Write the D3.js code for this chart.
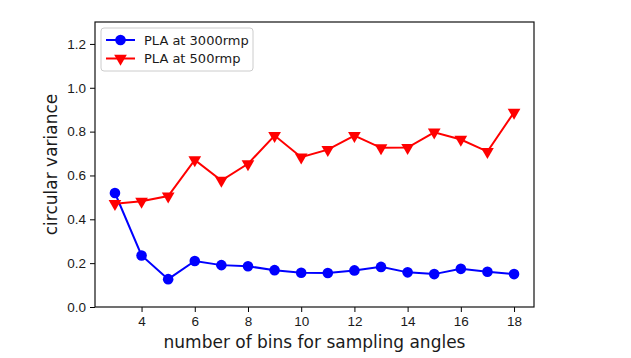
<!DOCTYPE html>
<html>
<head>
<meta charset="utf-8">
<script src="https://cdn.jsdelivr.net/npm/d3@7"></script>
<style>
  body { margin: 0; background: #fff; }
  svg { font-family: "DejaVu Sans", sans-serif; }
</style>
</head>
<body>
<div id="chart-area"></div>
<script>
let bins = [3, 4, 5, 6, 7, 8, 9, 10, 11, 12, 13, 14, 15, 16, 17, 18];
let pla3000 = [0.52, 0.235, 0.127, 0.21, 0.191, 0.186, 0.168, 0.156, 0.155, 0.167, 0.183, 0.158, 0.15, 0.174, 0.161, 0.15];
let pla500 = [0.471, 0.482, 0.506, 0.671, 0.577, 0.653, 0.782, 0.683, 0.718, 0.782, 0.726, 0.727, 0.797, 0.764, 0.709, 0.888];
let xTicks = [4, 6, 8, 10, 12, 14, 16, 18];
let yTicks = [0.0, 0.2, 0.4, 0.6, 0.8, 1.0, 1.2];
let seriesNames = ['PLA at 3000rmp', 'PLA at 500rmp'];

let margin = { left: 95, right: 97, top: 22, bottom: 51 };
let width = 631 - margin.left - margin.right;
let height = 358 - margin.top - margin.bottom;

let svg = d3.select('#chart-area').append('svg')
  .attr('width', 631)
  .attr('height', 358);

let g = svg.append('g')
  .attr('transform', `translate(${margin.left}, ${margin.top})`);

let x = d3.scaleLinear()
  .domain([2.25, 18.75])
  .range([0, width]);

let y = d3.scaleLinear()
  .domain([0, 1.3])
  .range([height, 0]);

// axes
let bottomAxis = d3.axisBottom(x)
  .tickValues(xTicks)
  .tickFormat(d3.format('d'))
  .tickSizeInner(5)
  .tickSizeOuter(0)
  .tickPadding(4);
let xg = g.append('g')
  .attr('transform', `translate(0, ${height})`)
  .call(bottomAxis);

let leftAxis = d3.axisLeft(y)
  .tickValues(yTicks)
  .tickFormat(d3.format('.1f'))
  .tickSizeInner(5)
  .tickSizeOuter(0)
  .tickPadding(4);
let yg = g.append('g')
  .call(leftAxis);

[xg, yg].forEach(a => {
  a.select('.domain').remove();
  a.selectAll('.tick line').attr('stroke', '#000').attr('stroke-width', 1);
  a.selectAll('.tick text').attr('fill', '#1a1a1a').style('font-size', '13.5px');
});

// frame
g.append('rect')
  .attr('x', 0)
  .attr('y', 0)
  .attr('width', width)
  .attr('height', height)
  .attr('fill', 'none')
  .attr('stroke', '#111')
  .attr('stroke-width', 1.2);

// lines
let line = d3.line()
  .x((d, i) => x(bins[i]))
  .y(d => y(d));

g.append('path')
  .datum(pla3000)
  .attr('d', line)
  .attr('fill', 'none')
  .attr('stroke', 'blue')
  .attr('stroke-width', 2);

g.append('path')
  .datum(pla500)
  .attr('d', line)
  .attr('fill', 'none')
  .attr('stroke', 'red')
  .attr('stroke-width', 2);

let tri = d3.symbol().type(d3.symbolTriangle).size(70);

g.selectAll('.m3000')
  .data(pla3000)
  .enter()
  .append('circle')
  .attr('cx', (d, i) => x(bins[i]))
  .attr('cy', d => y(d))
  .attr('r', 5.3)
  .attr('fill', 'blue');

g.selectAll('.m500')
  .data(pla500)
  .enter()
  .append('path')
  .attr('d', tri)
  .attr('transform', (d, i) => `translate(${x(bins[i])}, ${y(d)}) rotate(180)`)
  .attr('fill', 'red');

// axis labels
svg.append('text')
  .attr('x', margin.left + width / 2)
  .attr('y', 348)
  .attr('text-anchor', 'middle')
  .attr('fill', '#1a1a1a')
  .style('font-size', '17px')
  .text('number of bins for sampling angles');

svg.append('text')
  .attr('transform', `translate(57, ${margin.top + height / 2}) rotate(-90)`)
  .attr('text-anchor', 'middle')
  .attr('fill', '#1a1a1a')
  .style('font-size', '17px')
  .text('circular variance');

// legend
let legend = svg.append('g')
  .attr('transform', 'translate(101, 28)');

legend.append('rect')
  .attr('width', 152)
  .attr('height', 43)
  .attr('rx', 3)
  .attr('fill', '#fff')
  .attr('fill-opacity', 0.8)
  .attr('stroke', '#ccc')
  .attr('stroke-width', 1);

let colors = ['blue', 'red'];
seriesNames.forEach((name, i) => {
  let row = legend.append('g')
    .attr('transform', `translate(0, ${12 + i * 18.5})`);
  row.append('line')
    .attr('x1', 5)
    .attr('x2', 34)
    .attr('stroke', colors[i])
    .attr('stroke-width', 2);
  if (i === 0) {
    row.append('circle')
      .attr('cx', 19.5)
      .attr('r', 5.3)
      .attr('fill', colors[i]);
  } else {
    row.append('path')
      .attr('d', tri)
      .attr('transform', 'translate(19.5, 0) rotate(180)')
      .attr('fill', colors[i]);
  }
  row.append('text')
    .attr('x', 43)
    .attr('y', 0)
    .attr('dy', '0.35em')
    .attr('fill', '#1a1a1a')
    .style('font-size', '13px')
    .text(name);
});
</script>
</body>
</html>
